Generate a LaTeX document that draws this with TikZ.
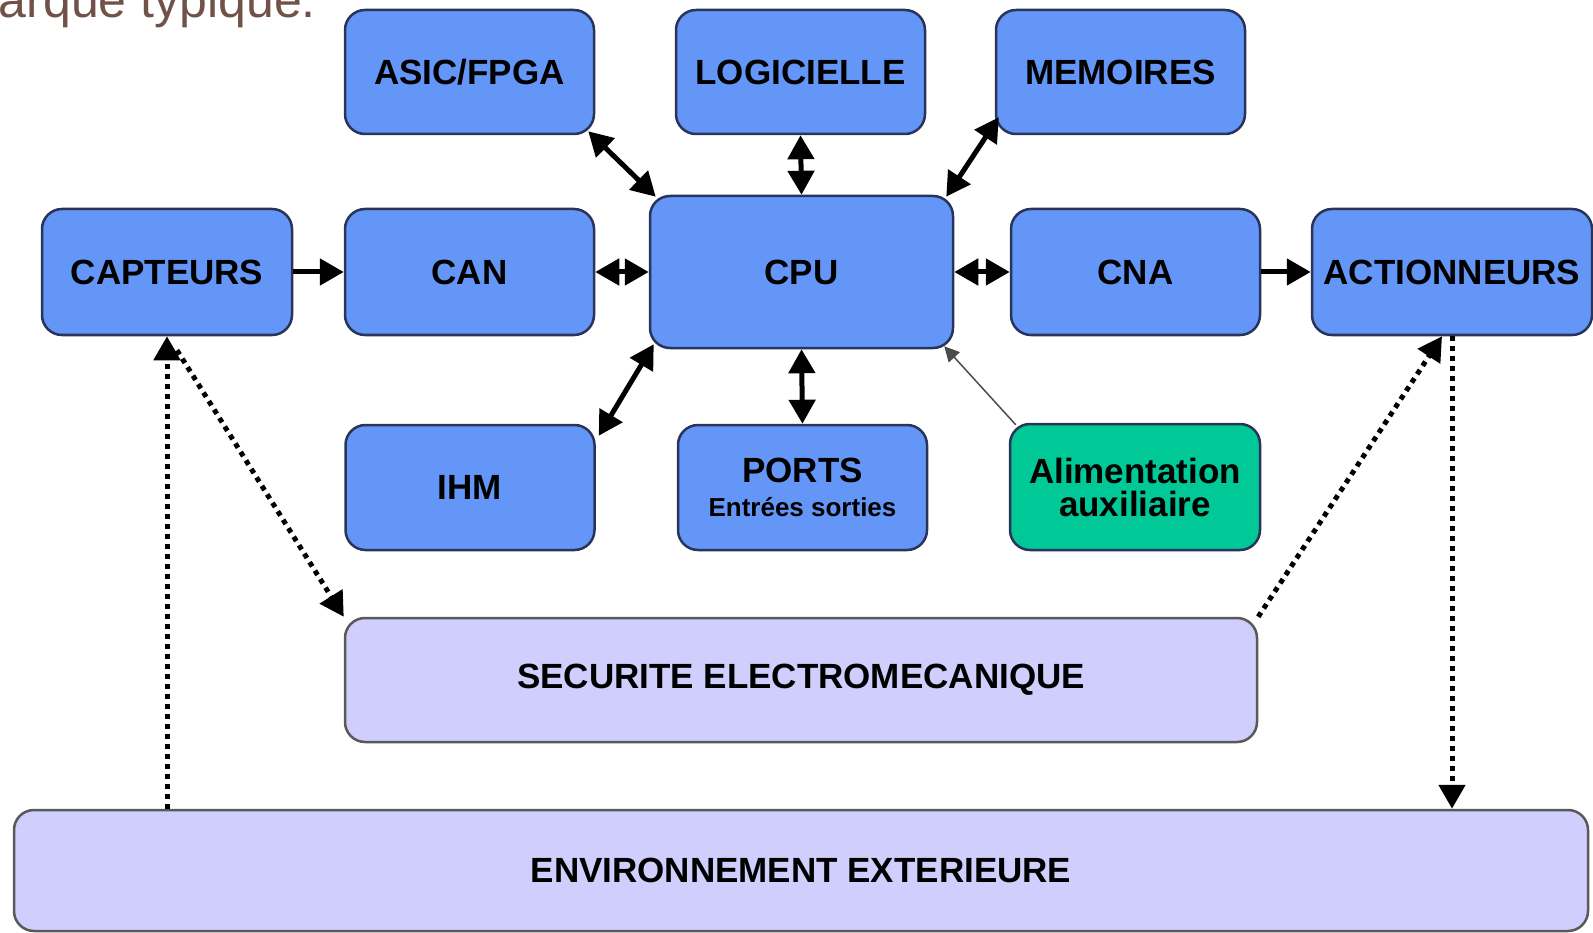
\documentclass[tikz,border=0pt]{standalone}
\usepackage{fontspec}
\setmainfont{Liberation Sans}
\usetikzlibrary{arrows.meta}
\definecolor{bleu}{RGB}{100,150,248}
\definecolor{vert}{RGB}{0,200,150}
\definecolor{lilas}{RGB}{208,206,252}
\definecolor{trait}{RGB}{40,52,90}
\definecolor{brun}{RGB}{112,82,72}
\tikzset{
 bloc/.style={draw=trait,line width=2.5pt,rounded corners=20pt,fill=bleu,text=black,
  minimum width=249pt,minimum height=124pt,align=center,
  font=\fontsize{35}{36}\selectfont\bfseries},
 bande/.style={bloc,fill=lilas,draw=black!65},
 fleche/.style={line width=5pt},
 pointille/.style={line width=5pt,dash pattern=on 5pt off 5pt},
}
\begin{document}
\begin{tikzpicture}[x=1pt,y=-1pt,line join=round,>={Triangle[length=24pt,width=26pt]}]
 \useasboundingbox (0,0) rectangle (1593,933);
 \clip (0,0) rectangle (1593,933);
 \node[anchor=base east,inner sep=0pt,text=brun,font=\fontsize{50}{60}\selectfont] (titre) at (316,18) {arque typique.};
 % ligne du haut
 \node[bloc] (asic) at (469.5,72) {ASIC/FPGA};
 \node[bloc] (logi) at (800.5,72) {LOGICIELLE};
 \node[bloc] (mem) at (1120.5,72) {MEMOIRES};
 % ligne du milieu
 \node[bloc,minimum width=250pt,minimum height=126pt] (capt) at (167,272) {CAPTEURS};
 \node[bloc,minimum height=126pt] (can) at (469.5,272) {CAN};
 \node[bloc,minimum width=303pt,minimum height=152pt] (cpu) at (801.5,272) {CPU};
 \node[bloc,minimum height=126pt] (cna) at (1135.5,272) {CNA};
 \node[bloc,minimum width=280pt,minimum height=126pt] (act) at (1452,272) {ACTIONNEURS};
 % ligne du bas
 \node[bloc,minimum height=125pt] (ihm) at (470,487.5) {IHM};
 \node[bloc,minimum height=125pt] (ports) at (802.5,487.5) {PORTS\\[-2pt]{\fontsize{26}{32}\selectfont Entrées sorties}};
 \node[bloc,fill=vert,minimum width=250pt,minimum height=126pt] (alim) at (1135,487) {Alimentation\\[-3pt]auxiliaire};
 \node[bande,minimum width=912pt] (secu) at (801,680) {SECURITE ELECTROMECANIQUE};
 \node[bande,minimum width=1574pt,minimum height=121pt] (env) at (801,870.5) {ENVIRONNEMENT EXTERIEURE};
 % liaisons
 \draw[fleche,->] (capt.east) -- (can.west);
 \draw[fleche,<->] (can.east) -- (cpu.west);
 \draw[fleche,<->] (cpu.east) -- (cna.west);
 \draw[fleche,->] (cna.east) -- (act.west);
 \draw[fleche,<->] (logi.south) -- (cpu.north);
 \draw[fleche,<->] (cpu.south) -- (ports.north);
 \draw[fleche,<->] ([shift={(-7,-4)}]asic.south east) -- ([shift={(7,2)}]cpu.north west);
 \draw[fleche,<->] ([shift={(4,-18)}]mem.south west) -- ([shift={(-8,2)}]cpu.north east);
 \draw[fleche,<->] ([shift={(3,12)}]ihm.north east) -- ([shift={(5,-5)}]cpu.south west);
 \draw[line width=1.5pt,black!70,-{Triangle[length=15pt,width=15pt]}] ([shift={(7,2)}]alim.north west) -- ([shift={(-10,-3)}]cpu.south east);
 % pointilles
 \draw[pointille,->] (capt.south |- env.north) -- (capt.south);
 \draw[pointille,->] ([shift={(10,14)}]capt.south) -- (secu.north west);
 \draw[pointille,->] (secu.north east) -- ([xshift=-10pt]act.south);
 \draw[pointille,->] (act.south) -- (act.south |- env.north);
\end{tikzpicture}
\end{document}
